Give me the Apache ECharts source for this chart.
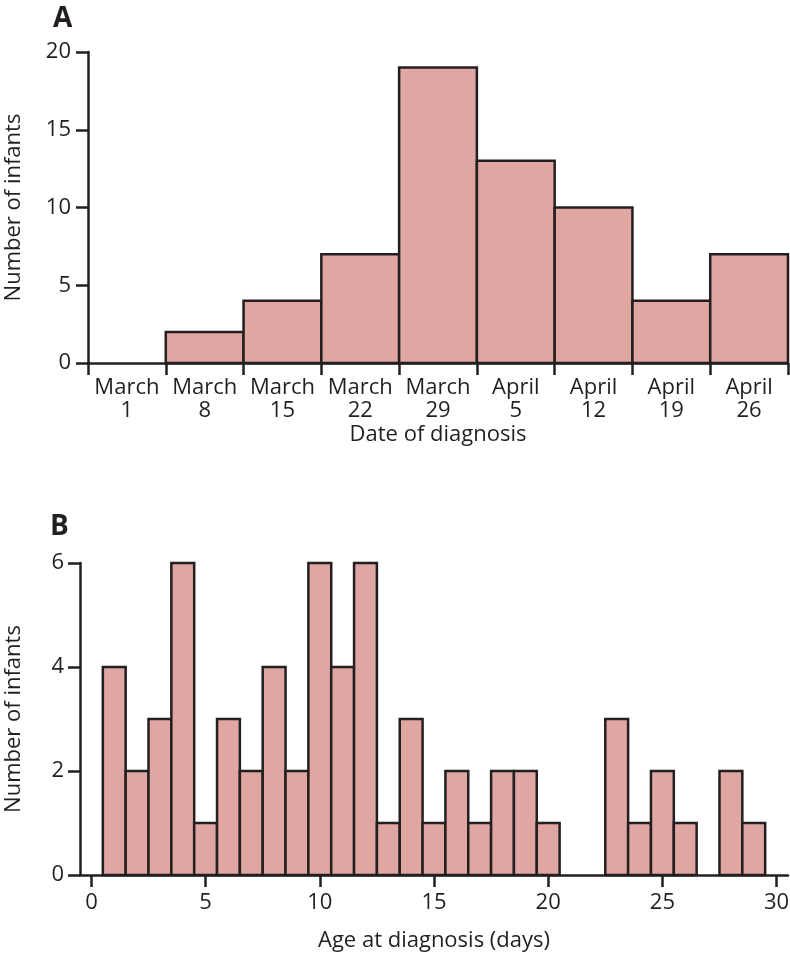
<!DOCTYPE html>
<html>
<head>
<meta charset="utf-8">
<script src="https://cdn.jsdelivr.net/npm/echarts@6/dist/echarts.min.js"></script>
<style>html,body{margin:0;padding:0;background:#fff}#c{width:790px;height:954px}</style>
</head>
<body>
<div id="c"></div>
<script>
const dateCategories = ['March\n1','March\n8','March\n15','March\n22','March\n29','April\n5','April\n12','April\n19','April\n26'];
const dateCounts = [0, 2, 4, 7, 19, 13, 10, 4, 7];
const ageCategories = ['0','1','2','3','4','5','6','7','8','9','10','11','12','13','14','15','16','17','18','19','20','21','22','23','24','25','26','27','28','29','30'];
const ageCounts = [0, 4, 2, 3, 6, 1, 3, 2, 4, 2, 6, 4, 6, 1, 3, 1, 2, 1, 2, 2, 1, 0, 0, 3, 1, 2, 1, 0, 2, 1, 0];

const ink = '#231f20';
const fill = '#e0a6a2';
const font = '"Open Sans", sans-serif';

const chart = echarts.init(document.getElementById('c'), null, {renderer: 'canvas'});
const axisLine = {show: true, lineStyle: {color: ink, width: 2.5}};
const axisTick = {show: true, length: 12, lineStyle: {color: ink, width: 2.5}};
const lbl = {color: ink, fontFamily: font, fontSize: 22};
const nameStyle = {color: ink, fontFamily: font, fontSize: 22};

function histItem(params, api) {
  const v = api.value(1);
  if (!v) return null;
  const x = api.value(0);
  const base = api.coord([x, 0]);
  const top = api.coord([x, v]);
  const w = api.size([1, 0])[0];
  return {
    type: 'rect',
    shape: {x: base[0] - w / 2, y: top[1], width: w, height: base[1] - top[1]},
    style: {fill: fill, stroke: ink, lineWidth: 2.5}
  };
}

chart.setOption({
  animation: false,
  title: [
    {text: 'A', left: 48, top: 0, textStyle: {fontFamily: font, fontWeight: 'bold', fontSize: 28, color: ink}},
    {text: 'B', left: 45, top: 508, textStyle: {fontFamily: font, fontWeight: 'bold', fontSize: 28, color: ink}}
  ],
  grid: [
    {left: 88, right: 2, top: 52, bottom: 591, outerBoundsMode: 'none', containLabel: false},
    {left: 80, right: 2, top: 563, bottom: 79, outerBoundsMode: 'none', containLabel: false}
  ],
  xAxis: [
    {
      type: 'category', gridIndex: 0, data: dateCategories, boundaryGap: true,
      axisLine, axisTick: Object.assign({}, axisTick, {alignWithLabel: false}),
      axisLabel: Object.assign({}, lbl, {margin: 13, lineHeight: 23, interval: 0}),
      name: 'Date of diagnosis', nameLocation: 'middle', nameGap: 61, nameTextStyle: nameStyle
    },
    {
      type: 'category', gridIndex: 1, data: ageCategories, boundaryGap: true,
      axisLine,
      axisTick: Object.assign({}, axisTick, {alignWithLabel: true, interval: (i) => i % 5 === 0}),
      axisLabel: Object.assign({}, lbl, {margin: 17, interval: (i) => i % 5 === 0}),
      name: 'Age at diagnosis (days)', nameLocation: 'middle', nameGap: 55, nameTextStyle: nameStyle
    }
  ],
  yAxis: [
    {
      type: 'value', gridIndex: 0, min: 0, max: 20, interval: 5,
      axisLine, axisTick, splitLine: {show: false},
      axisLabel: Object.assign({}, lbl, {margin: 17}),
      name: 'Number of infants', nameLocation: 'middle', nameGap: 63, nameTextStyle: nameStyle
    },
    {
      type: 'value', gridIndex: 1, min: 0, max: 6, interval: 2,
      axisLine, axisTick, splitLine: {show: false},
      axisLabel: Object.assign({}, lbl, {margin: 16}),
      name: 'Number of infants', nameLocation: 'middle', nameGap: 55, nameTextStyle: nameStyle
    }
  ],
  series: [
    {
      type: 'custom', xAxisIndex: 0, yAxisIndex: 0, renderItem: histItem,
      encode: {x: 0, y: 1},
      data: dateCounts.map((v, i) => [i, v])
    },
    {
      type: 'custom', xAxisIndex: 1, yAxisIndex: 1, renderItem: histItem,
      encode: {x: 0, y: 1},
      data: ageCounts.map((v, i) => [i, v])
    }
  ]
});
</script>
</body>
</html>
